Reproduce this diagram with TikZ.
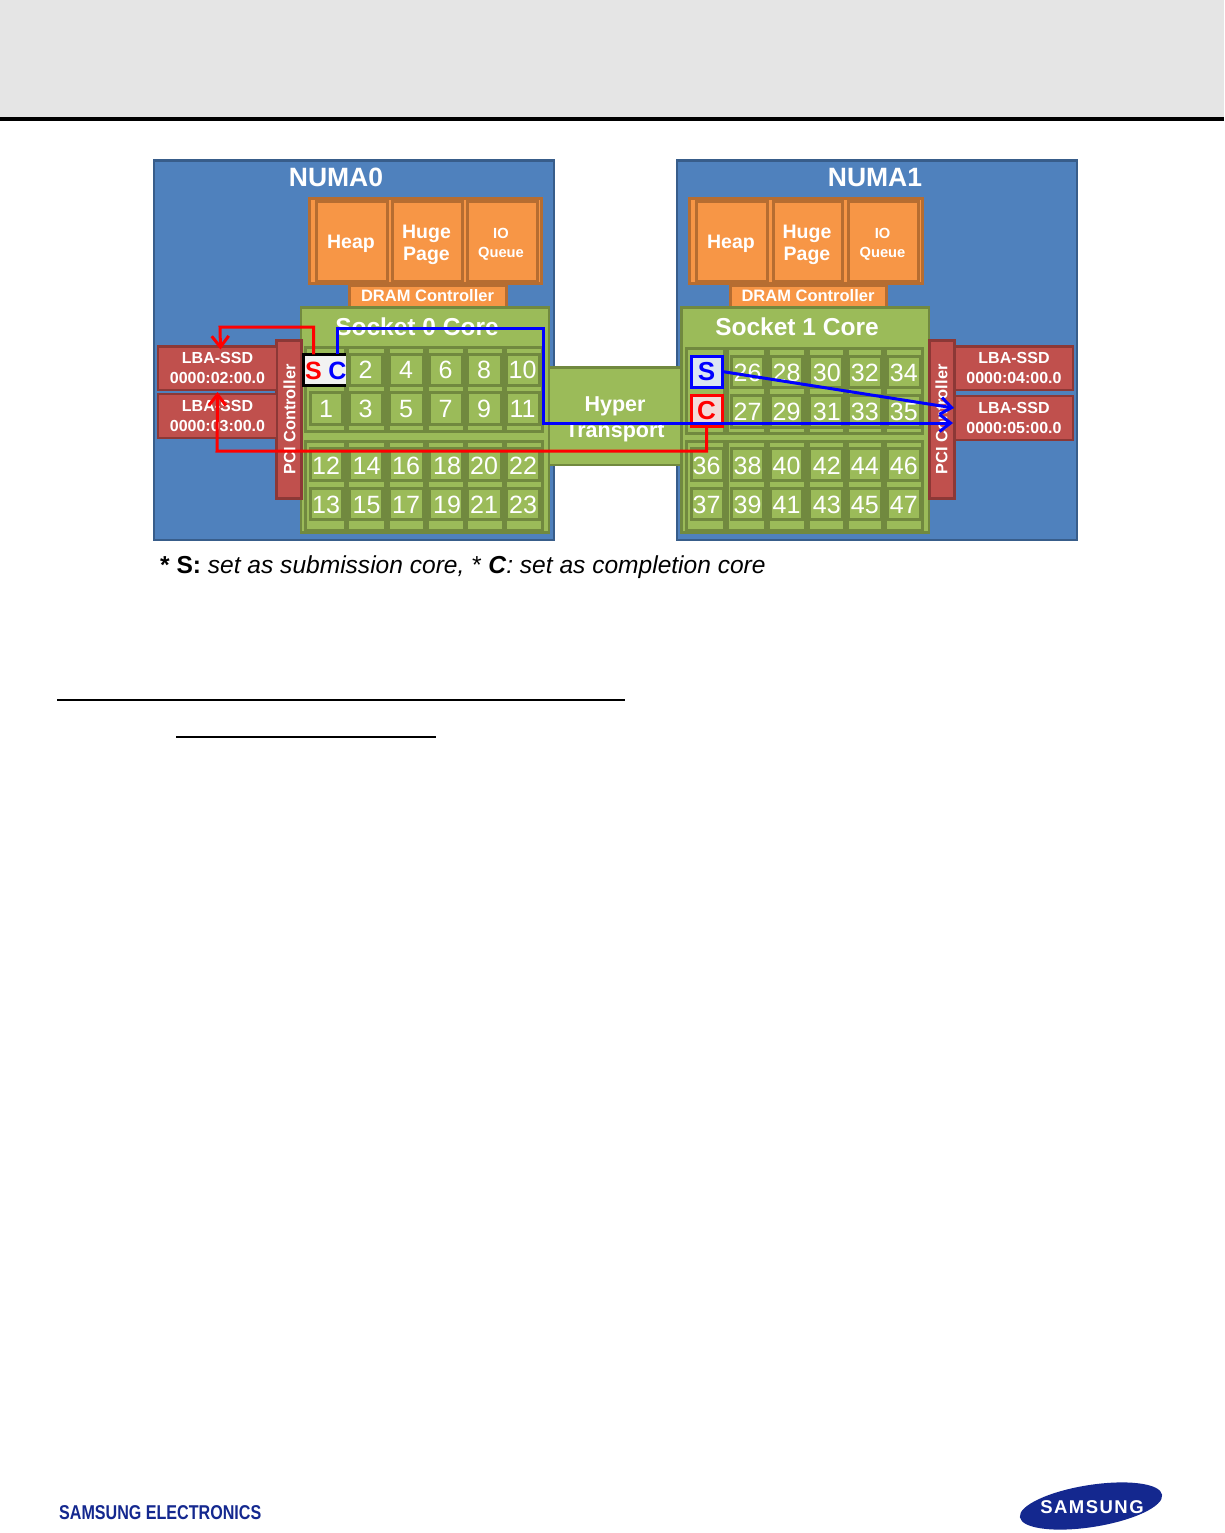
\documentclass[tikz,border=0pt]{standalone}
\usepackage{fontspec}
\setmainfont{Liberation Sans}
\usetikzlibrary{arrows.meta}
\definecolor{numafill}{HTML}{4F81BD}\definecolor{numaline}{HTML}{385D8A}
\definecolor{orfill}{HTML}{F79646}\definecolor{orline}{HTML}{B66D31}
\definecolor{redfill}{HTML}{C0504D}\definecolor{redline}{HTML}{8C3836}
\definecolor{grfill}{HTML}{9BBB59}\definecolor{grline}{HTML}{71893F}
\definecolor{navy}{HTML}{14288F}
\definecolor{paleblue}{HTML}{DCE6F2}\definecolor{palered}{HTML}{F2DCDB}
\newcommand{\fsz}[2]{\fontsize{#1}{#2}\selectfont}
\newcommand{\bx}[7]{\node[#1,minimum width={(#5)-(#3)},minimum height={(#6)-(#4)}] (#2) at ({((#3)+(#5))/2},{((#4)+(#6))/2}) {#7};}
\newcommand{\twol}[4]{\fsz{#1}{#2}#3\\[\dimexpr #2pt-12pt\relax]\fsz{#1}{#2}#4}
\newcommand{\cl}[3]{\raisebox{-#2pt}{\makebox[0pt][c]{\hspace*{#1pt}#3}}}
\tikzset{
 boxbase/.style={draw,inner sep=0pt,outer sep=0pt,align=center,text=white,font=\bfseries},
 numabox/.style={boxbase,fill=numafill,draw=numaline,line width=2.5pt},
 orbox/.style={boxbase,fill=orfill,draw=orline,line width=3pt},
 redbox/.style={boxbase,fill=redfill,draw=redline,line width=2.5pt},
 grbox/.style={boxbase,fill=grfill,draw=grline,line width=2.5pt},
 grpbox/.style={boxbase,fill=grfill,draw=grline,line width=3pt},
 cellbox/.style={boxbase,fill=grfill,draw=grline,line width=3pt,font=\mdseries\fsz{25}{25},text height=18pt,text depth=0pt},
 lbl/.style={inner sep=0pt,text=white,font=\bfseries,align=center},
 redlink/.style={draw=red,line width=3pt,-{Straight Barb[length=11pt,width=17pt,line width=3pt]}},
 bluelink/.style={draw=blue,line width=3pt,-{Straight Barb[length=11pt,width=17pt,line width=3pt]}},
}
\begin{document}
\begin{tikzpicture}[x=1pt,y=-1pt]
\useasboundingbox (0,0) rectangle (1224,1533);
\fill[white] (0,0) rectangle (1224,1533);
% header and rules
\fill[black!10] (0,0) rectangle (1224,117);
\fill[black] (0,117) rectangle (1224,121);
\fill[black] (57,699.2) rectangle (625,701);
\fill[black] (176,735.8) rectangle (436,737.6);
% NUMA panels
\bx{numabox}{numaA}{154}{160.5}{554}{540}{}
\bx{numabox}{numaB}{677}{160.5}{1077}{540}{}
\node[lbl,font=\bfseries\fsz{26.5}{27}] (numaAt) at (336,177.5) {NUMA0};
\node[lbl,font=\bfseries\fsz{26.5}{27}] (numaBt) at (875,177.5) {NUMA1};
% memory, NUMA0
\bx{orbox}{memA}{309}{199}{541}{283}{}
\bx{orbox}{heapA}{316}{202}{387}{281}{}
\bx{orbox}{hugeA}{392}{202}{462}{281}{}
\bx{orbox}{ioA}{467}{202}{537}{281}{}
\node[lbl] (heapAt) at (351,243.5) {\fsz{19.5}{24}Heap};
\node[lbl] (hugeAt) at (426.5,245) {\twol{19.5}{16}{Huge}{Page}};
\node[lbl] (ioAt) at (501,244.5) {\twol{14.7}{19}{IO}{Queue}};
\bx{orbox}{dramA}{349}{285}{506}{307}{\fsz{16.5}{20}DRAM Controller}
% memory, NUMA1
\bx{orbox}{memB}{689}{199}{922}{283}{}
\bx{orbox}{heapB}{696}{202}{767}{281}{}
\bx{orbox}{hugeB}{773}{202}{842}{281}{}
\bx{orbox}{ioB}{848}{202}{918}{281}{}
\node[lbl] (heapBt) at (731,243.5) {\fsz{19.5}{24}Heap};
\node[lbl] (hugeBt) at (807,245) {\twol{19.5}{16}{Huge}{Page}};
\node[lbl] (ioBt) at (882.5,244.5) {\twol{14.7}{19}{IO}{Queue}};
\bx{orbox}{dramB}{730}{285}{886}{307}{\fsz{16.5}{20}DRAM Controller}
% hypertransport
\bx{grbox}{hyper}{548}{367.5}{682}{465}{}
\node[lbl] (hypert) at (615,419) {\twol{21.5}{18}{Hyper}{Transport}};
% sockets
\bx{grbox}{sockA}{301}{307.5}{549}{532.5}{}
\bx{grbox}{sockB}{681.5}{307.5}{929}{532.5}{}
\node[lbl,font=\bfseries\fsz{24.5}{25}] (sockAt) at (417,327) {Socket 0 Core};
\node[lbl,font=\bfseries\fsz{24.5}{25}] (sockBt) at (797,327) {Socket 1 Core};
% PCI controllers
\bx{redbox}{pciA}{276.5}{340.5}{301.5}{498.5}{}
\bx{redbox}{pciB}{929.5}{340.5}{954.5}{498.5}{}
\node[lbl,rotate=90,font=\bfseries\fsz{16.4}{17}] (pciAt) at (289.5,419.5) {PCI Controller};
\node[lbl,rotate=90,font=\bfseries\fsz{16.4}{17}] (pciBt) at (941.5,419.5) {PCI Controller};
% SSDs
\bx{redbox}{ssdA}{158}{346.5}{277}{390}{\twol{16}{20}{LBA-SSD}{0000:02:00.0}}
\bx{redbox}{ssdB}{158}{394}{277}{438}{\twol{16}{20}{LBA-SSD}{0000:03:00.0}}
\bx{redbox}{ssdC}{955}{346.5}{1073}{390}{\twol{16}{20}{LBA-SSD}{0000:04:00.0}}
\bx{redbox}{ssdD}{955}{396}{1073}{440}{\twol{16}{20}{LBA-SSD}{0000:05:00.0}}
% core groups, socket 0
\foreach \ga/\gb in {305/345,347/385,388/424,427/464,466/503,505/542}{
  \bx{grpbox}{gAt\ga}{\ga}{347}{\gb}{431}{}
  \bx{grpbox}{gAb\ga}{\ga}{441}{\gb}{530}{}
}
\bx{cellbox}{cA1}{310}{392}{342}{424}{1}
\bx{cellbox}{cA12}{310}{448}{342}{480}{\cl{0}{1.5}{12}}
\bx{cellbox}{cA13}{310}{488}{342}{519}{\cl{0}{0.5}{13}}
\foreach \ca/\cb/\ta/\tb/\tc/\td/\dx in {
 349/382/2/3/14/15/2,
 389/423/4/5/16/17/0,
 429/462/6/7/18/19/3,
 467/501/8/9/20/21/0,
 506/539/10/11/22/23/1}{
  \bx{cellbox}{cA\ta}{\ca}{354}{\cb}{385}{\ta}
  \bx{cellbox}{cA\tb}{\ca}{392}{\cb}{424}{\tb}
  \bx{cellbox}{cA\tc}{\ca}{448}{\cb}{480}{\cl{\dx}{1.5}{\tc}}
  \bx{cellbox}{cA\td}{\ca}{488}{\cb}{519}{\cl{\dx}{0.5}{\td}}
}
% core groups, socket 1
\foreach \ga/\gb in {686/724,727/765,768/805,808/844,847/882,885/922}{
  \bx{grpbox}{gBt\ga}{\ga}{348}{\gb}{433}{}
  \bx{grpbox}{gBb\ga}{\ga}{441}{\gb}{530}{}
}
\foreach \ca/\cb/\ta/\tb/\tc/\td/\dx in {
 731/763/26/27/38/39/1,
 770/802/28/29/40/41/1,
 809/842/30/31/42/43/2.5,
 848/881/32/33/44/45/0.5,
 887/920/34/35/46/47/0.5}{
  \bx{cellbox}{cB\ta}{\ca}{356}{\cb}{387}{\cl{\dx}{1}{\ta}}
  \bx{cellbox}{cB\tb}{\ca}{395}{\cb}{427}{\cl{\dx}{0.5}{\tb}}
  \bx{cellbox}{cB\tc}{\ca}{448}{\cb}{480}{\cl{\dx}{1.5}{\tc}}
  \bx{cellbox}{cB\td}{\ca}{488}{\cb}{519}{\cl{\dx}{0.5}{\td}}
}
\bx{cellbox}{cB36}{691}{448}{723}{480}{\cl{-1}{1.5}{36}}
\bx{cellbox}{cB37}{691}{488}{723}{519}{\cl{-1}{0.5}{37}}
% marked cores, socket 1
\bx{boxbase,fill=paleblue,draw=blue,line width=3pt,text=blue,font=\bfseries\fsz{26}{26}}{sB}{691}{356}{722}{387}{S}
\bx{boxbase,fill=palered,draw=red,line width=3pt,text=red,font=\bfseries\fsz{26}{26}}{cB}{691}{395}{722}{426}{C}
% marked core, socket 0
\fill[black!5] (303,354) rectangle (346,385);
\draw[black,line width=3pt] (346,354) -- (303,354) -- (303,385) -- (346,385);
\node[inner sep=0pt,text=red,font=\bfseries\fsz{25}{25}] (sA) at (313.5,370.5) {S};
\node[inner sep=0pt,text=blue,font=\bfseries\fsz{25}{25}] (cA) at (337.5,370.5) {C};
% connectors
\coordinate (rb) at (217,451);
\coordinate (bm) at (543,423);
\draw[redlink] ([yshift=7pt]sA.north) |- (220,327) -- ([xshift=3pt,yshift=-3pt]ssdA.north);
\draw[redlink] (cB.south) |- (rb) -- ([yshift=2pt]ssdB.north);
\draw[bluelink] ([yshift=7pt]cA.north) |- (543,328) -- (bm) -- ([xshift=-2pt,yshift=-5pt]ssdD.west);
\draw[bluelink] (sB.east) -- ([yshift=-12pt,xshift=-1pt]ssdD.north west);
% caption
\node[anchor=base west,inner sep=0pt,font=\fsz{24.55}{25},text=black] (capt) at (160,573) {\textbf{* S:} \textit{set as submission core, *} \textbf{\textit{C}}\textit{: set as completion core}};
% footer
\node[anchor=base west,inner sep=0pt,text=navy,font=\bfseries\fsz{20}{20},xscale=0.805] (elec) at (59,1519) {SAMSUNG ELECTRONICS};
\fill[navy,rotate around={9:(1091,1506)}] (1091,1506) ellipse [x radius=72,y radius=21];
\node[inner sep=0pt,text=white,font={\bfseries\fsz{18.5}{20}\addfontfeature{LetterSpace=8}}] (logo) at (1092,1507) {SAMSUNG};
\end{tikzpicture}
\end{document}
